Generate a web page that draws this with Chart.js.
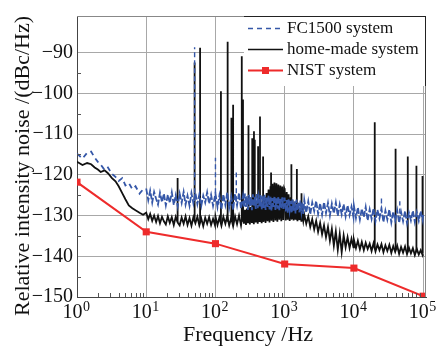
<!DOCTYPE html>
<html>
<head>
<meta charset="utf-8">
<script src="https://cdn.jsdelivr.net/npm/chart.js@4.4.1/dist/chart.umd.min.js"></script>
<style>
  html, body { margin: 0; padding: 0; background: #fff; }
  canvas { display: block; }
</style>
</head>
<body>
<canvas id="myChart" width="447" height="346"></canvas>
<script>
// DATOS
const freqHz = [
  1, 1.2, 1.4, 1.6, 1.8, 2, 2.2, 2.5, 2.8, 3.2, 3.6, 4, 4.5, 5, 5.6, 6.3, 7, 8, 9,
  10, 10.7, 11.4, 12.2, 13, 13.9, 14.8, 15.8, 16.9, 18, 19.2, 20.5, 21.9, 23.4, 25, 26.7, 28.5, 30.4,
  32.5, 34.7, 37, 39.5, 42.2, 45, 48, 51.3, 54.8, 58.5, 62.4, 66.6, 71.1, 75.9, 81, 86.5, 92.3, 98.5,
  100, 107, 114, 122, 130, 139, 148, 158, 169, 180, 192, 205, 219, 234,
  250, 258, 267, 276, 285, 294, 304, 314, 325, 336, 347, 358, 370, 382, 395, 408, 422, 436, 450, 465,
  480, 496, 513, 530, 548, 566, 585, 604, 624, 645, 666, 688, 711, 735, 759, 784, 810, 837, 865, 894,
  923, 954, 985,
  1000, 1035, 1070, 1105, 1140, 1180, 1220, 1260, 1300, 1345, 1390, 1435, 1480, 1530, 1580, 1635, 1690, 1745, 1800, 1860, 1920,
  2050, 2190, 2340, 2500, 2670, 2850, 3040, 3250, 3470, 3700, 3950, 4220, 4500, 4800, 5130, 5480, 5850, 6240, 6660, 7110,
  7590, 8100, 8650, 9230, 9850,
  10000, 10700, 11400, 12200, 13000, 13900, 14800, 15800, 16900, 18000, 19200, 20500, 21900, 23400, 25000, 26700, 28500, 30400,
  32500, 34700, 37000, 39500, 42200, 45000, 48000, 51300, 54800, 58500, 62400, 66600, 71100, 75900, 81000, 86500, 92300, 98500, 100000
]

const fcNoise = [
  -114.8, -116.0, -114.6, -114.3, -115.8, -116.8, -117.5, -118.8, -118.2, -119.8, -120.5, -121.5, -120.8, -122.6, -122.0, -123.5, -122.8, -124.6, -123.6,
  -123.4, -126.2, -123.9, -126.8, -124.2, -125.9, -127.3, -124.4, -126.7, -124.6, -127.5, -124.9, -126.9, -124.3, -127.4, -125.0, -127.7, -124.6,
  -126.9, -124.2, -127.3, -125.1, -127.6, -124.5, -127.0, -124.4, -127.2, -124.8, -127.6, -125.1, -126.8, -124.3, -127.1, -124.9, -127.6, -125.2,
  -124.6, -127.9, -125.1, -128.5, -124.8, -127.4, -124.3, -128.1, -125.4, -128.6, -124.7, -127.5, -124.4, -128.3,
  -125.2, -128.0, -124.6, -127.9, -125.3, -128.6, -124.9, -127.7, -125.5, -128.7, -124.8, -127.8, -125.4, -128.4, -124.7, -128.2, -125.6, -127.8, -125.0, -128.5,
  -125.3, -128.1, -124.9, -128.6, -125.6, -127.9, -125.1, -128.5, -125.4, -128.8, -125.7, -127.9, -125.2, -128.6, -125.8, -128.3, -125.3, -128.7, -125.9, -128.2,
  -125.5, -128.4, -125.8,
  -125.8, -129.0, -126.2, -129.3, -125.9, -128.6, -126.4, -129.4, -126.0, -128.8, -126.5, -129.5, -126.1, -128.7, -126.6, -129.2, -126.3, -128.9, -126.8, -129.6, -126.2,
  -129.3, -126.5, -129.7, -126.8, -128.9, -126.4, -129.6, -127.0, -129.8, -126.7, -129.4, -126.9, -130.0, -127.1, -129.5, -126.8, -130.1, -127.3, -129.7, -127.2,
  -130.2, -127.5, -129.9, -127.8, -130.4,
  -127.6, -130.6, -128.0, -131.0, -128.3, -130.4, -127.9, -131.2, -128.5, -130.8, -128.2, -131.4, -128.6, -130.7, -128.4, -131.6, -128.8, -131.0,
  -128.5, -131.7, -129.0, -131.2, -128.7, -131.8, -129.1, -131.4, -128.9, -131.9, -129.3, -131.2, -128.8, -131.6, -129.2, -131.3, -128.9, -131.1, -129.6
]

const homeNoise = [
  -116.8, -117.6, -117.1, -117.4, -118.2, -118.7, -119.3, -118.9, -119.6, -120.8, -121.6, -122.8, -124.5, -126.0, -127.5, -128.2, -128.7, -129.3, -129.8,
  -129.3, -130.9, -129.6, -131.3, -130.0, -131.6, -130.1, -131.9, -130.3, -131.4, -132.2, -130.2, -131.8, -130.4, -132.3, -130.3, -131.7, -132.4,
  -130.5, -132.0, -130.2, -132.3, -130.6, -132.5, -130.4, -131.9, -130.3, -132.4, -130.7, -132.6, -130.5, -132.0, -130.4, -132.3, -130.8, -132.4,
  -130.2, -132.3, -130.5, -132.5, -130.3, -132.0, -130.1, -132.4, -130.6, -132.6, -130.2, -132.1, -130.0, -132.4,
  -128.9, -132.0, -128.6, -132.3, -128.3, -131.9, -128.0, -132.2, -127.9, -131.8, -127.6, -132.1, -127.4, -131.7, -127.2, -132.0, -126.9, -131.6, -126.7, -131.9,
  -126.2, -131.5, -125.4, -131.8, -124.5, -131.4, -123.6, -131.7, -122.8, -131.3, -122.2, -131.6, -121.9, -131.2, -122.1, -131.5, -122.4, -131.0, -122.6, -131.4,
  -122.9, -131.1, -123.3,
  -123.6, -131.2, -124.2, -131.0, -124.8, -131.3, -125.5, -130.9, -126.2, -131.2, -126.9, -131.0, -127.6, -131.4, -128.2, -131.1, -128.8, -131.5, -129.3, -131.3, -129.8,
  -132.0, -130.2, -132.8, -130.9, -133.4, -131.3, -134.0, -131.8, -134.6, -132.4, -135.3, -132.8, -136.2, -133.3, -137.4, -133.9, -138.4, -134.5, -139.0, -134.9,
  -137.8, -135.3, -138.0, -135.7, -137.8,
  -135.9, -138.0, -136.2, -138.3, -136.5, -138.5, -136.7, -138.2, -136.9, -138.7, -136.8, -138.8, -137.1, -138.5, -137.0, -139.0, -137.3, -138.7,
  -137.2, -139.2, -137.5, -138.9, -137.4, -139.4, -137.7, -139.1, -137.6, -139.5, -137.9, -139.3, -138.0, -139.7, -138.2, -139.6, -138.5, -139.8, -139.5
]

// picos (lineas espectrales)
const homeSpikeHz   = [28.4, 50, 60, 120, 150, 170, 180, 240, 250, 300, 340, 360, 370, 413, 440, 488, 636, 1250, 1500, 1750, 20000, 40000, 60000, 80000, 98000]
const homeSpikeTop  = [-120.8, -92.4, -88.8, -99.5, -87.3, -106, -102.8, -90.9, -101.5, -107.8, -111, -109.3, -111.4, -113, -105.7, -115.5, -119.4, -117.4, -118.6, -124.5, -107.1, -113.6, -115.5, -117.8, -120.3]
const homeSpikeBase = [-131.5, -131.5, -131.5, -131.5, -131.5, -131.5, -131.5, -131.5, -131.5, -131.5, -131.5, -131.5, -131.5, -131.5, -131.5, -131.5, -131, -131, -131, -131, -138, -138.5, -139, -139, -139.3]

const fcSpikeHz   = [50, 100, 200, 25000, 46000]
const fcSpikeTop  = [-88.7, -115.8, -119.4, -125.8, -126.5]
const fcSpikeBase = [-126.5, -126.5, -126.5, -129, -129.5]

const nistHz  = [1, 10, 100, 1000, 10000, 100000]
const nistVal = [-121.8, -134, -136.9, -141.9, -142.9, -149.8]

const xTickValues = [1, 10, 100, 1000, 10000, 100000]
const yTickValues = [-150, -140, -130, -120, -110, -100, -90]

const FONT = 'Liberation Serif'
const BLUE = '#3557a8'
const RED = '#ee2b2b'
const BLACK = '#111111'

function pairs(xs, ys) {
  return xs.map((f, i) => ({ x: f, y: ys[i] }))
}

function spikes(hz, base, top) {
  let pts = []
  hz.forEach((f, i) => {
    pts.push({ x: f, y: base[i] }, { x: f, y: top[i] }, { x: f, y: null })
  })
  return pts
}

//PLUGIN: ticks menores, etiquetas 10^n, bordes, leyenda y titulos
const decor = {
  id: 'decor',
  afterDraw(chart) {
    const ctx = chart.ctx
    const a = chart.chartArea
    const xs = chart.scales.x
    const ys = chart.scales.y
    ctx.save()

    // ticks menores
    ctx.strokeStyle = '#555'
    ctx.lineWidth = 1
    ctx.beginPath()
    for (const d of [1, 10, 100, 1000, 10000]) {
      for (let m = 2; m <= 9; m++) {
        const px = Math.round(xs.getPixelForValue(d * m)) + 0.5
        ctx.moveTo(px, a.bottom)
        ctx.lineTo(px, a.bottom - 4)
      }
    }
    for (let v = -145; v < -85; v += 10) {
      const py = Math.round(ys.getPixelForValue(v)) + 0.5
      ctx.moveTo(a.left, py)
      ctx.lineTo(a.left + 4, py)
    }
    ctx.stroke()

    // borde superior y derecho
    ctx.strokeStyle = '#888'
    ctx.beginPath()
    ctx.moveTo(a.left, a.top + 0.5)
    ctx.lineTo(a.right, a.top + 0.5)
    ctx.moveTo(a.right - 0.5, a.top)
    ctx.lineTo(a.right - 0.5, a.bottom)
    ctx.stroke()

    // etiquetas del eje x: 10^n
    ctx.fillStyle = '#111'
    ctx.textBaseline = 'alphabetic'
    ctx.textAlign = 'left'
    xTickValues.forEach(v => {
      const px = xs.getPixelForValue(v)
      const ex = String(Math.round(Math.log10(v)))
      ctx.font = '20px "' + FONT + '"'
      const w1 = ctx.measureText('10').width
      ctx.font = '14px "' + FONT + '"'
      const w2 = ctx.measureText(ex).width
      const x0 = px - (w1 + w2) / 2 - 1
      ctx.font = '20px "' + FONT + '"'
      ctx.fillText('10', x0, 318)
      ctx.font = '14px "' + FONT + '"'
      ctx.fillText(ex, x0 + w1 + 0.5, 311)
    })

    // leyenda
    const lx = 244, ly = a.top, lw = a.right - 244, lh = 70
    ctx.fillStyle = '#fff'
    ctx.fillRect(lx, ly, lw, lh)
    ctx.strokeStyle = '#222'
    ctx.beginPath()
    ctx.moveTo(lx, ly + 0.5)
    ctx.lineTo(lx + lw, ly + 0.5)
    ctx.moveTo(lx + lw - 0.5, ly)
    ctx.lineTo(lx + lw - 0.5, ly + lh)
    ctx.stroke()

    const items = [0, 2, 4]
    items.forEach((di, k) => {
      const ds = chart.data.datasets[di]
      const yy = ly + 12 + k * 21
      ctx.strokeStyle = ds.borderColor
      ctx.lineWidth = di === 4 ? 2 : 1.4
      ctx.setLineDash(di === 0 ? [5, 4] : [])
      ctx.beginPath()
      ctx.moveTo(lx + 4, yy + 0.5)
      ctx.lineTo(lx + 39, yy + 0.5)
      ctx.stroke()
      ctx.setLineDash([])
      if (ds.pointStyle === 'rect') {
        ctx.fillStyle = ds.backgroundColor
        ctx.fillRect(lx + 18, yy - 3, 7, 7)
      }
      ctx.fillStyle = '#111'
      ctx.font = '17px "' + FONT + '"'
      ctx.textBaseline = 'middle'
      ctx.textAlign = 'left'
      ctx.fillText(ds.label, lx + 43, yy + 1)
    })

    // titulos de ejes
    ctx.fillStyle = '#111'
    ctx.font = '22px "' + FONT + '"'
    ctx.textAlign = 'center'
    ctx.textBaseline = 'alphabetic'
    ctx.fillText('Frequency /Hz', 248, 341)
    ctx.translate(29, 166)
    ctx.rotate(-Math.PI / 2)
    ctx.fillText('Relative intensity noise /(dBc/Hz)', 0, 0)
    ctx.restore()
  }
}

//CONFIGURACION DE CHART
var ctx = document.getElementById('myChart').getContext('2d')

var chart = new Chart(ctx, {
  type: 'line',
  data: {
    datasets: [
      {
        label: 'FC1500 system',
        data: pairs(freqHz, fcNoise),
        borderColor: BLUE,
        borderWidth: 1.8,
        borderDash: [6, 2],
        // por debajo de 10 Hz el trazo se ve con guiones mas abiertos
        segment: { borderDash: (c) => (c.p0.parsed.x < 10 ? [5, 4] : [6, 2]) },
        pointRadius: 0,
        tension: 0,
        clip: 0
      },
      {
        label: 'FC1500 lines',
        data: spikes(fcSpikeHz, fcSpikeBase, fcSpikeTop),
        borderColor: BLUE,
        borderWidth: 1.4,
        borderDash: [5, 3],
        pointRadius: 0,
        clip: 0
      },
      {
        label: 'home-made system',
        data: pairs(freqHz, homeNoise),
        borderColor: BLACK,
        borderWidth: 1.8,
        pointRadius: 0,
        tension: 0,
        clip: 0
      },
      {
        label: 'home-made lines',
        data: spikes(homeSpikeHz, homeSpikeBase, homeSpikeTop),
        borderColor: BLACK,
        borderWidth: 1.8,
        pointRadius: 0,
        clip: 0
      },
      {
        label: 'NIST system',
        data: pairs(nistHz, nistVal),
        borderColor: RED,
        backgroundColor: RED,
        borderWidth: 2,
        pointStyle: 'rect',
        pointRadius: 5,
        pointBorderWidth: 0,
        tension: 0,
        clip: 0
      }
    ]
  },
  options: {
    responsive: false,
    animation: false,
    events: [],
    layout: { padding: { top: 10, right: 21, left: 0, bottom: 0 } },
    plugins: {
      legend: { display: false },
      tooltip: { enabled: false }
    },
    scales: {
      x: {
        type: 'logarithmic',
        min: 1,
        max: 110000,
        afterBuildTicks: (s) => { s.ticks = xTickValues.map(v => ({ value: v })) },
        afterFit: (s) => { s.height = 49 },
        ticks: { display: false },
        grid: { color: '#a8a8a8', lineWidth: 1, drawTicks: false },
        border: { color: '#444', width: 1 }
      },
      y: {
        type: 'linear',
        min: -150,
        max: -81,
        afterBuildTicks: (s) => { s.ticks = yTickValues.map(v => ({ value: v })) },
        afterFit: (s) => { s.width = 77 },
        ticks: {
          padding: 4,
          color: '#111',
          font: { family: FONT, size: 20 },
          callback: (v) => String(v).replace('-', '\u2212')
        },
        grid: { color: '#a8a8a8', lineWidth: 1, drawTicks: false },
        border: { color: '#444', width: 1 }
      }
    }
  },
  plugins: [decor]
})
</script>
</body>
</html>
